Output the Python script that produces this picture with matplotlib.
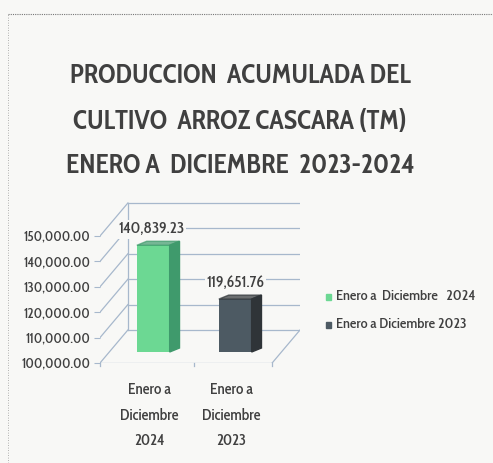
import matplotlib
matplotlib.use("Agg")
import matplotlib.pyplot as plt
from matplotlib.patches import Polygon
from matplotlib.lines import Line2D

plt.rcParams['font.family'] = ['Cabin Condensed', 'Carlito', 'DejaVu Sans']
plt.rcParams['font.weight'] = 500

# data
categories = ["Enero a\nDiciembre\n2024", "Enero a\nDiciembre\n2023"]
series_names = ["Enero a  Diciembre   2024", "Enero a Diciembre 2023"]
values = [140839.23, 119651.76]
value_labels = ["140,839.23", "119,651.76"]
yticks = [100000, 110000, 120000, 130000, 140000, 150000]
ytick_labels = ["100,000.00", "110,000.00", "120,000.00", "130,000.00", "140,000.00", "150,000.00"]

front_colors = ["#6cd893", "#4d5a63"]
side_colors = ["#3f9a6c", "#2f3438"]
grid_color = "#a7b8cc"
text_color = "#404040"
bg = "#f8f8f6"

fig = plt.figure(figsize=(4.93, 4.63), dpi=100)
fig.patch.set_facecolor(bg)

# dotted frame
fig.add_artist(Line2D([8 / 493, 1], [1 - 14 / 463] * 2, transform=fig.transFigure,
                      color="#777777", lw=0.8, ls=(0, (1, 1))))
fig.add_artist(Line2D([8 / 493] * 2, [0, 1 - 14 / 463], transform=fig.transFigure,
                      color="#999999", lw=0.6, ls=(0, (1, 2))))

title_lines = ["PRODUCCION  ACUMULADA DEL", "CULTIVO  ARROZ CASCARA (TM)",
               "ENERO A  DICIEMBRE  2023-2024"]
for line, yc in zip(title_lines, [76, 122, 166]):
    fig.text(240 / 493, 1 - yc / 463, line, ha="center", va="center",
             fontsize=19.2, fontweight="bold", color=text_color)

# axes in pixels: x 100..300, y 363 (bottom) .. 195 (top)
ax = fig.add_axes([100 / 493, 1 - 363 / 463, 200 / 493, 168 / 463])
ax.set_facecolor("none")
ymin = yticks[0]
px = 10000 / 25.4
ax.set_ylim(ymin, ymin + 168 * px)
ax.set_xlim(-0.65, 1.79)
for s in ax.spines.values():
    s.set_visible(False)
ax.set_xticks([])
ax.set_yticks(yticks)
ax.set_yticklabels(ytick_labels, fontsize=10, color=text_color)
ax.tick_params(axis="y", length=4, color=grid_color, pad=3)

# pseudo-3d depth
ddx = 0.34          # x units
ddy = 33 * px       # y units
xl, xr = -0.65, 1.79 - ddx

for t in yticks:
    ax.plot([xl, xl + ddx], [t, t + ddy], color=grid_color, lw=0.9)
    ax.plot([xl + ddx, xr + ddx], [t + ddy, t + ddy], color=grid_color, lw=0.9)
ax.plot([xl + ddx, xl + ddx], [ymin + ddy, yticks[-1] + ddy], color=grid_color, lw=0.9)
ax.plot([xl, xr], [ymin, ymin], color=grid_color, lw=0.9)
ax.plot([xr, xr + ddx], [ymin, ymin + ddy], color=grid_color, lw=0.9)
for xt in [xl, 0.5, xr]:
    ax.plot([xt, xt], [ymin, ymin - 3 * px], color=grid_color, lw=0.9, clip_on=False)

width = 0.4
bd = 0.12           # bar depth in x
bdy = 4 * px
lift = 14 * px
for i, v in enumerate(values):
    x0 = i - width / 2
    x1 = i + width / 2
    b = ymin + 11 * px
    top = v + lift
    ax.bar(i, top - b, width=width, bottom=b, color=front_colors[i], edgecolor="none", zorder=3)
    ax.add_patch(Polygon([(x1, b), (x1 + bd, b + bdy), (x1 + bd, top + bdy), (x1, top)],
                         closed=True, color=side_colors[i], zorder=3))
    ax.add_patch(Polygon([(x0, top), (x0 + bd, top + bdy), (x1 + bd, top + bdy), (x1, top)],
                         closed=True, color=side_colors[i], alpha=0.7, zorder=3))
    ax.text(i - 0.02 * (1 - i), top + 8 * px, value_labels[i], ha="center", va="bottom",
            fontsize=11.5, color=text_color, zorder=4,
            bbox=dict(facecolor=bg, edgecolor="none", pad=1))
    ax.text(i - 0.05, ymin - 19 * px, categories[i], ha="center", va="top", fontsize=11,
            color=text_color, linespacing=1.8)

# legend
for i, name in enumerate(series_names):
    y = 1 - (297 + 28 * i) / 463
    fig.patches.append(plt.Rectangle((326 / 493, y - 3 / 463), 5 / 493, 6 / 463,
                                     transform=fig.transFigure, color=front_colors[i]))
    fig.text(336 / 493, y, name, ha="left", va="center", fontsize=10.4, color=text_color)

fig.savefig("out.png", dpi=100, facecolor=fig.get_facecolor())
